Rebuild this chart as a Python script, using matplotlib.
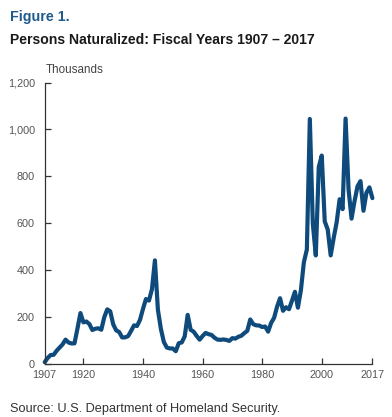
import matplotlib
matplotlib.use("Agg")
import matplotlib.pyplot as plt

plt.rcParams['font.family'] = ['Liberation Sans', 'DejaVu Sans']

# persons naturalized, thousands, fiscal years 1907-2017
years = list(range(1907, 2018))
naturalized = [
    7.9, 26.0, 38.4, 39.4, 56.7, 70.3, 83.6, 104.1, 91.8, 87.8,      # 1907-1916
    88.1, 151.4, 217.4, 177.7, 181.3, 170.4, 145.1, 150.5, 152.5, 146.2,  # 1917-1926
    199.8, 233.2, 224.7, 169.4, 143.5, 136.6, 113.4, 113.7, 118.9, 141.3,  # 1927-1936
    165.0, 162.1, 188.8, 235.3, 277.3, 270.4, 318.9, 442.0, 231.4, 150.1,  # 1937-1946
    93.9, 70.3, 66.6, 66.3, 54.7, 88.7, 92.1, 117.8, 209.5, 145.9,        # 1947-1956
    138.0, 119.9, 103.9, 119.4, 132.5, 127.3, 124.2, 112.2, 104.3, 103.1,  # 1957-1966
    104.9, 102.7, 98.7, 110.4, 108.4, 116.2, 120.7, 131.7, 141.5, 190.0,   # 1967-1976
    170.0, 165.0, 164.2, 157.9, 160.0, 138.0, 175.0, 197.0, 244.7, 280.6,  # 1977-1986
    227.0, 242.1, 233.8, 270.1, 308.1, 240.3, 314.7, 434.1, 488.1, 1044.7, # 1987-1996
    598.2, 463.1, 839.9, 888.8, 608.2, 573.7, 463.2, 537.2, 604.3, 702.6,  # 1997-2006
    660.5, 1046.5, 743.7, 619.9, 694.2, 757.4, 779.9, 653.4, 730.3, 753.1, # 2007-2016
    707.3,                                                                 # 2017
]
x_ticks = [1907, 1920, 1940, 1960, 1980, 2000, 2017]
y_ticks = [0, 200, 400, 600, 800, 1000, 1200]

fig = plt.figure(figsize=(3.92, 4.17), dpi=100)
ax = fig.add_axes([0.114, 0.127, 0.836, 0.675])

ax.plot(years, naturalized, color='#0e4a7b', linewidth=3.0,
        solid_joinstyle='round', solid_capstyle='round', clip_on=False)

ax.set_xlim(1907, 2017)
ax.set_ylim(0, 1200)
ax.set_xticks(x_ticks)
ax.set_yticks(y_ticks)
ax.set_yticklabels([f"{v:,}" for v in y_ticks])

for side in ['top', 'right']:
    ax.spines[side].set_visible(False)
for side in ['left', 'bottom']:
    ax.spines[side].set_color('#333333')
    ax.spines[side].set_linewidth(0.9)

ax.tick_params(axis='both', direction='in', length=4, width=0.9,
               color='#333333', labelcolor='#555555', labelsize=7.8)
ax.tick_params(axis='y', pad=7)
ax.tick_params(axis='x', pad=4)

fig.text(0.026, 0.976, "Figure 1.", color='#1f5b8e', fontsize=10.3,
         fontweight='bold', va='top', ha='left')
fig.text(0.026, 0.921, "Persons Naturalized: Fiscal Years 1907 \u2013 2017",
         color='#1a1a1a', fontsize=10.1, fontweight='bold', va='top', ha='left')
fig.text(0.117, 0.847, "Thousands", color='#444444', fontsize=8.4,
         va='top', ha='left')
fig.text(0.026, 0.012, "Source: U.S. Department of Homeland Security.",
         color='#333333', fontsize=9.2, va='baseline', ha='left')

fig.savefig("out.png", dpi=100)
